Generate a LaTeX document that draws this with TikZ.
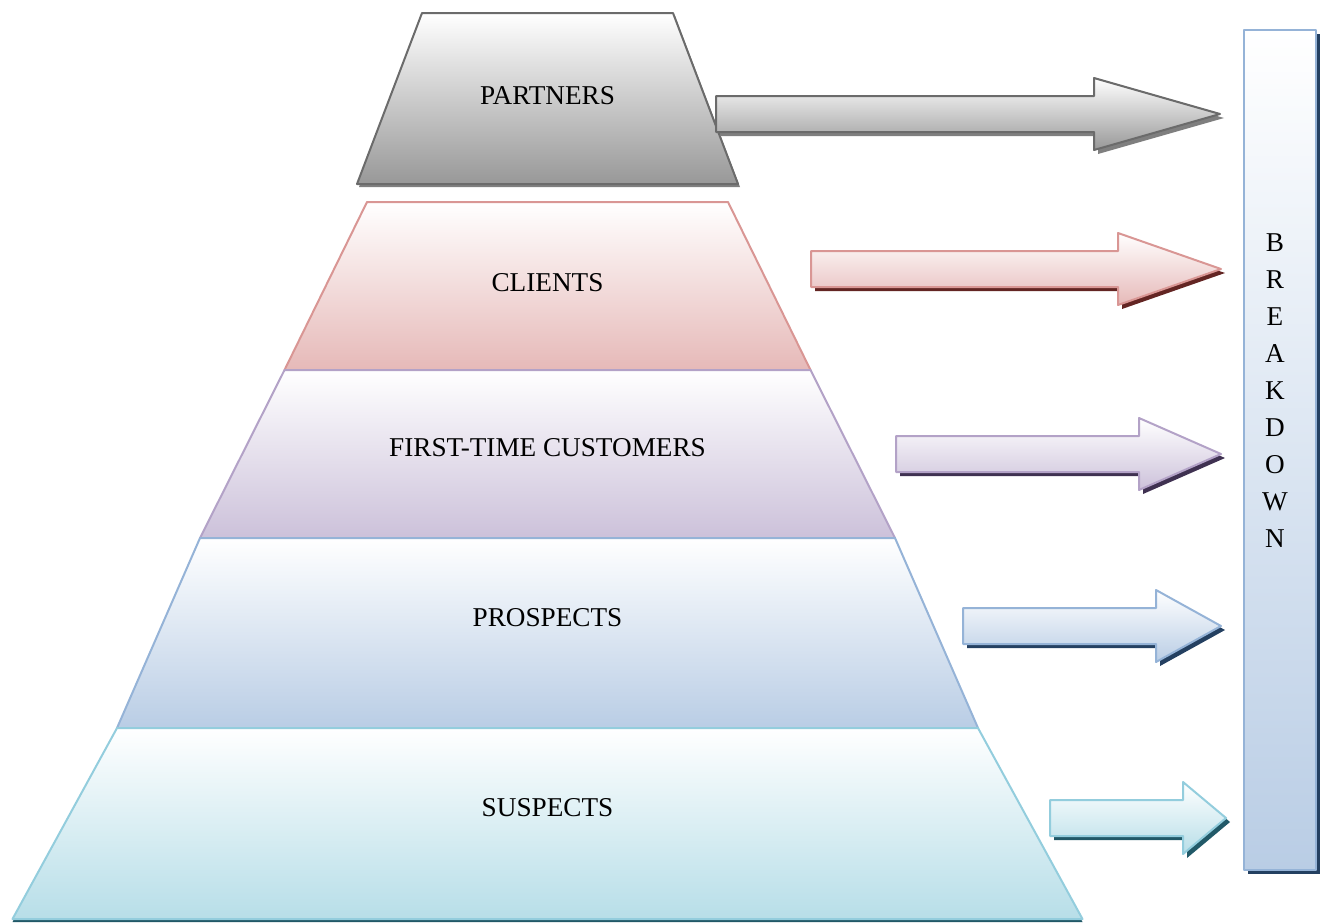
\documentclass[tikz,border=0pt]{standalone}
\usepackage{fontspec}
\setmainfont{Liberation Serif}
\definecolor{partnersline}{HTML}{6B6B6B}
\definecolor{partnersfill}{HTML}{989898}
\definecolor{partnersshade}{HTML}{7F7F7F}
\definecolor{clientsline}{HTML}{D99694}
\definecolor{clientsfill}{HTML}{E6B9B8}
\definecolor{clientsshade}{HTML}{632523}
\definecolor{firstline}{HTML}{B3A2C7}
\definecolor{firstfill}{HTML}{CCC1DA}
\definecolor{firstshade}{HTML}{3F3151}
\definecolor{prospectsline}{HTML}{95B3D7}
\definecolor{prospectsfill}{HTML}{B9CDE5}
\definecolor{prospectsshade}{HTML}{244061}
\definecolor{suspectsline}{HTML}{93CDDD}
\definecolor{suspectsfill}{HTML}{B7DEE8}
\definecolor{suspectsshade}{HTML}{215968}
\begin{document}
\begin{tikzpicture}[x=0.5pt,y=-0.5pt,line join=round,font=\fontsize{13.6}{18.45}\selectfont]
\useasboundingbox (0,0) rectangle (1325,922);
\tikzset{shaded/.style={draw=#1line,line width=1pt,top color=white,bottom color=#1fill}}
\def\cx{547.5}
% pyramid, top layer first
\foreach \ya/\yb/\wa/\wb/\yt/\sx/\nm/\lab in {13/184/125.5/190.5/96/2/partners/PARTNERS,
  202/370/180.5/263/283/0/clients/CLIENTS,
  370/538/263/347.5/448/0/first/FIRST-TIME CUSTOMERS,
  538/728/347.5/430.5/618/0/prospects/PROSPECTS,
  728/919/430.5/535/808/0/suspects/SUSPECTS}{
\fill[\nm shade,shift={(\sx,3)}](\cx-\wa,\ya)--(\cx+\wa,\ya)--(\cx+\wb,\yb)--(\cx-\wb,\yb)--cycle;
\draw[shaded=\nm](\cx-\wa,\ya)--(\cx+\wa,\ya)--(\cx+\wb,\yb)--(\cx-\wb,\yb)--cycle;
\node (\nm) at (\cx,\yt) {\lab};
}
% arrows
\foreach \xa/\yc/\xb/\xt/\nm in {716/114/1094/1220/partners,811/269/1118/1221/clients,
  896/454/1139/1221/first,963/626/1156/1221/prospects,1050/818/1183/1226/suspects}{
\fill[\nm shade,shift={(4,4)}](\xa,\yc-18)--(\xb,\yc-18)--(\xb,\yc-36)--(\xt,\yc)--(\xb,\yc+36)--(\xb,\yc+18)--(\xa,\yc+18)--cycle;
\draw[shaded=\nm](\xa,\yc-18)--(\xb,\yc-18)--(\xb,\yc-36)--(\xt,\yc)--(\xb,\yc+36)--(\xb,\yc+18)--(\xa,\yc+18)--cycle;
}
% side bar
\fill[prospectsshade,shift={(4,4)}](1244,30) rectangle (1316,870);
\draw[shaded=prospects](1244,30) rectangle (1316,870);
\node[align=center,inner sep=0pt] (breakdown) at (1275,390.5) {B\\R\\E\\A\\K\\D\\O\\W\\N};
\end{tikzpicture}
\end{document}
